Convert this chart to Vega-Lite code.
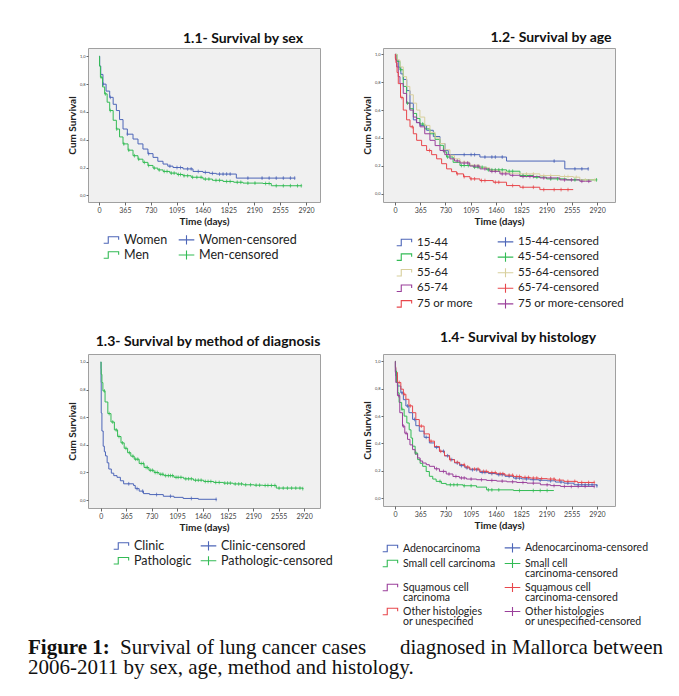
{
"$schema": "https://vega.github.io/schema/vega-lite/v6.json",
"background": "white",
"padding": {"left": 28, "top": 30, "right": 10, "bottom": 5},
"bounds": "flush",
"columns": 2,
"spacing": {"row": 152, "column": 63},
"resolve": {"scale": {"color": "independent"}, "legend": {"color": "independent"}},
"config": {
  "view": {"fill": "#f0f0f0", "stroke": "#a0a0a0", "strokeWidth": 1},
  "axis": {"grid": false, "domain": false, "labelFont": "Lato", "titleFont": "Lato", "titleFontWeight": "bold", "titleFontSize": 10, "titleColor": "#222", "labelColor": "#444", "tickColor": "#666"},
  "axisX": {"labelFontSize": 7, "tickSize": 3, "labelPadding": 1, "titlePadding": 3},
  "axisY": {"labelFontSize": 4, "tickSize": 2, "labelPadding": 1, "titlePadding": 2},
  "title": {"font": "Lato", "fontSize": 14, "fontWeight": "bold", "color": "#111"},
  "legend": {"orient": "bottom", "columns": 2, "symbolSize": 169, "symbolStrokeWidth": 1.1, "symbolFillColor": "transparent", "labelFont": "Lato", "labelColor": "#222", "labelLimit": 400, "labelOffset": 5}
},
"datasets": {
"sex": [
{"g":"Women","t":0,"s":1},{"g":"Women","t":10,"s":0.93},{"g":"Women","t":25,"s":0.87},{"g":"Women","t":56,"s":0.8},{"g":"Women","t":100,"s":0.75},{"g":"Women","t":151,"s":0.705},{"g":"Women","t":200,"s":0.655},{"g":"Women","t":245,"s":0.61},{"g":"Women","t":290,"s":0.545},{"g":"Women","t":339,"s":0.477},{"g":"Women","t":400,"s":0.44},{"g":"Women","t":480,"s":0.405},{"g":"Women","t":550,"s":0.37},{"g":"Women","t":620,"s":0.333},{"g":"Women","t":690,"s":0.3},{"g":"Women","t":762,"s":0.273},{"g":"Women","t":830,"s":0.245},{"g":"Women","t":903,"s":0.225},{"g":"Women","t":970,"s":0.21},{"g":"Women","t":1044,"s":0.2},{"g":"Women","t":1185,"s":0.19},{"g":"Women","t":1326,"s":0.172},{"g":"Women","t":1467,"s":0.165},{"g":"Women","t":1560,"s":0.158},{"g":"Women","t":1655,"s":0.153},{"g":"Women","t":1937,"s":0.124},{"g":"Women","t":2760,"s":0.124},
{"g":"Women","t":60,"s":0.8,"c":1},{"g":"Women","t":160,"s":0.705,"c":1},{"g":"Women","t":400,"s":0.44,"c":1},{"g":"Women","t":700,"s":0.3,"c":1},{"g":"Women","t":1000,"s":0.21,"c":1},{"g":"Women","t":1100,"s":0.2,"c":1},{"g":"Women","t":1150,"s":0.2,"c":1},{"g":"Women","t":1250,"s":0.19,"c":1},{"g":"Women","t":1300,"s":0.19,"c":1},{"g":"Women","t":1400,"s":0.172,"c":1},{"g":"Women","t":1500,"s":0.165,"c":1},{"g":"Women","t":1600,"s":0.158,"c":1},{"g":"Women","t":1700,"s":0.153,"c":1},{"g":"Women","t":1750,"s":0.153,"c":1},{"g":"Women","t":1800,"s":0.153,"c":1},{"g":"Women","t":1850,"s":0.153,"c":1},{"g":"Women","t":2100,"s":0.124,"c":1},{"g":"Women","t":2300,"s":0.124,"c":1},{"g":"Women","t":2400,"s":0.124,"c":1},{"g":"Women","t":2500,"s":0.124,"c":1},{"g":"Women","t":2600,"s":0.124,"c":1},{"g":"Women","t":2700,"s":0.124,"c":1},{"g":"Women","t":2760,"s":0.124,"c":1},
{"g":"Men","t":0,"s":1},{"g":"Men","t":8,"s":0.93},{"g":"Men","t":20,"s":0.85},{"g":"Men","t":50,"s":0.78},{"g":"Men","t":80,"s":0.73},{"g":"Men","t":115,"s":0.67},{"g":"Men","t":151,"s":0.61},{"g":"Men","t":200,"s":0.54},{"g":"Men","t":245,"s":0.477},{"g":"Men","t":290,"s":0.42},{"g":"Men","t":339,"s":0.37},{"g":"Men","t":410,"s":0.325},{"g":"Men","t":480,"s":0.285},{"g":"Men","t":550,"s":0.26},{"g":"Men","t":620,"s":0.237},{"g":"Men","t":690,"s":0.215},{"g":"Men","t":762,"s":0.196},{"g":"Men","t":830,"s":0.183},{"g":"Men","t":903,"s":0.172},{"g":"Men","t":1000,"s":0.16},{"g":"Men","t":1100,"s":0.15},{"g":"Men","t":1185,"s":0.141},{"g":"Men","t":1300,"s":0.13},{"g":"Men","t":1467,"s":0.117},{"g":"Men","t":1600,"s":0.108},{"g":"Men","t":1749,"s":0.1},{"g":"Men","t":1900,"s":0.094},{"g":"Men","t":2031,"s":0.088},{"g":"Men","t":2313,"s":0.085},{"g":"Men","t":2430,"s":0.069},{"g":"Men","t":2853,"s":0.069},
{"g":"Men","t":30,"s":0.85,"c":1},{"g":"Men","t":90,"s":0.73,"c":1},{"g":"Men","t":160,"s":0.61,"c":1},{"g":"Men","t":250,"s":0.477,"c":1},{"g":"Men","t":350,"s":0.37,"c":1},{"g":"Men","t":420,"s":0.325,"c":1},{"g":"Men","t":500,"s":0.285,"c":1},{"g":"Men","t":560,"s":0.26,"c":1},{"g":"Men","t":640,"s":0.237,"c":1},{"g":"Men","t":700,"s":0.215,"c":1},{"g":"Men","t":780,"s":0.196,"c":1},{"g":"Men","t":850,"s":0.183,"c":1},{"g":"Men","t":920,"s":0.172,"c":1},{"g":"Men","t":960,"s":0.172,"c":1},{"g":"Men","t":1020,"s":0.16,"c":1},{"g":"Men","t":1060,"s":0.16,"c":1},{"g":"Men","t":1120,"s":0.15,"c":1},{"g":"Men","t":1150,"s":0.15,"c":1},{"g":"Men","t":1200,"s":0.141,"c":1},{"g":"Men","t":1250,"s":0.141,"c":1},{"g":"Men","t":1320,"s":0.13,"c":1},{"g":"Men","t":1380,"s":0.13,"c":1},{"g":"Men","t":1440,"s":0.13,"c":1},{"g":"Men","t":1500,"s":0.117,"c":1},{"g":"Men","t":1550,"s":0.117,"c":1},{"g":"Men","t":1650,"s":0.108,"c":1},{"g":"Men","t":1700,"s":0.108,"c":1},{"g":"Men","t":1800,"s":0.1,"c":1},{"g":"Men","t":1850,"s":0.1,"c":1},{"g":"Men","t":1950,"s":0.094,"c":1},{"g":"Men","t":2000,"s":0.094,"c":1},{"g":"Men","t":2100,"s":0.088,"c":1},{"g":"Men","t":2200,"s":0.088,"c":1},{"g":"Men","t":2350,"s":0.085,"c":1},{"g":"Men","t":2400,"s":0.085,"c":1},{"g":"Men","t":2500,"s":0.069,"c":1},{"g":"Men","t":2600,"s":0.069,"c":1},{"g":"Men","t":2700,"s":0.069,"c":1},{"g":"Men","t":2800,"s":0.069,"c":1},{"g":"Men","t":2853,"s":0.069,"c":1}
],
"age": [
{"g":"15-44","t":0,"s":1},{"g":"15-44","t":20,"s":0.96},{"g":"15-44","t":48,"s":0.91},{"g":"15-44","t":85,"s":0.86},{"g":"15-44","t":120,"s":0.82},{"g":"15-44","t":170,"s":0.74},{"g":"15-44","t":217,"s":0.65},{"g":"15-44","t":265,"s":0.53},{"g":"15-44","t":310,"s":0.51},{"g":"15-44","t":361,"s":0.49},{"g":"15-44","t":457,"s":0.455},{"g":"15-44","t":554,"s":0.41},{"g":"15-44","t":650,"s":0.36},{"g":"15-44","t":722,"s":0.31},{"g":"15-44","t":770,"s":0.28},{"g":"15-44","t":1227,"s":0.263},{"g":"15-44","t":1612,"s":0.234},{"g":"15-44","t":2454,"s":0.178},{"g":"15-44","t":2792,"s":0.178},
{"g":"15-44","t":1000,"s":0.28,"c":1},{"g":"15-44","t":1100,"s":0.28,"c":1},{"g":"15-44","t":1150,"s":0.28,"c":1},{"g":"15-44","t":1300,"s":0.263,"c":1},{"g":"15-44","t":1400,"s":0.263,"c":1},{"g":"15-44","t":1450,"s":0.263,"c":1},{"g":"15-44","t":1550,"s":0.263,"c":1},{"g":"15-44","t":2300,"s":0.234,"c":1},{"g":"15-44","t":2600,"s":0.178,"c":1},{"g":"15-44","t":2700,"s":0.178,"c":1},{"g":"15-44","t":2792,"s":0.178,"c":1},
{"g":"45-54","t":0,"s":1},{"g":"45-54","t":30,"s":0.95},{"g":"45-54","t":72,"s":0.89},{"g":"45-54","t":120,"s":0.77},{"g":"45-54","t":168,"s":0.65},{"g":"45-54","t":215,"s":0.61},{"g":"45-54","t":265,"s":0.576},{"g":"45-54","t":313,"s":0.54},{"g":"45-54","t":361,"s":0.5},{"g":"45-54","t":430,"s":0.465},{"g":"45-54","t":505,"s":0.43},{"g":"45-54","t":580,"s":0.39},{"g":"45-54","t":650,"s":0.347},{"g":"45-54","t":700,"s":0.3},{"g":"45-54","t":746,"s":0.263},{"g":"45-54","t":840,"s":0.225},{"g":"45-54","t":939,"s":0.202},{"g":"45-54","t":1131,"s":0.19},{"g":"45-54","t":1324,"s":0.171},{"g":"45-54","t":1612,"s":0.161},{"g":"45-54","t":1805,"s":0.13},{"g":"45-54","t":1997,"s":0.118},{"g":"45-54","t":2189,"s":0.106},{"g":"45-54","t":2478,"s":0.099},{"g":"45-54","t":2912,"s":0.099},
{"g":"45-54","t":80,"s":0.89,"c":1},{"g":"45-54","t":180,"s":0.65,"c":1},{"g":"45-54","t":400,"s":0.5,"c":1},{"g":"45-54","t":760,"s":0.263,"c":1},{"g":"45-54","t":960,"s":0.202,"c":1},{"g":"45-54","t":1000,"s":0.202,"c":1},{"g":"45-54","t":1060,"s":0.202,"c":1},{"g":"45-54","t":1150,"s":0.19,"c":1},{"g":"45-54","t":1200,"s":0.19,"c":1},{"g":"45-54","t":1260,"s":0.19,"c":1},{"g":"45-54","t":1350,"s":0.171,"c":1},{"g":"45-54","t":1400,"s":0.171,"c":1},{"g":"45-54","t":1450,"s":0.171,"c":1},{"g":"45-54","t":1500,"s":0.171,"c":1},{"g":"45-54","t":1550,"s":0.171,"c":1},{"g":"45-54","t":1650,"s":0.161,"c":1},{"g":"45-54","t":1700,"s":0.161,"c":1},{"g":"45-54","t":1850,"s":0.13,"c":1},{"g":"45-54","t":1900,"s":0.13,"c":1},{"g":"45-54","t":2050,"s":0.118,"c":1},{"g":"45-54","t":2250,"s":0.106,"c":1},{"g":"45-54","t":2350,"s":0.106,"c":1},{"g":"45-54","t":2600,"s":0.099,"c":1},{"g":"45-54","t":2912,"s":0.099,"c":1},
{"g":"55-64","t":0,"s":1},{"g":"55-64","t":30,"s":0.96},{"g":"55-64","t":72,"s":0.91},{"g":"55-64","t":120,"s":0.84},{"g":"55-64","t":168,"s":0.77},{"g":"55-64","t":215,"s":0.71},{"g":"55-64","t":265,"s":0.65},{"g":"55-64","t":313,"s":0.6},{"g":"55-64","t":361,"s":0.55},{"g":"55-64","t":430,"s":0.49},{"g":"55-64","t":505,"s":0.44},{"g":"55-64","t":580,"s":0.4},{"g":"55-64","t":650,"s":0.36},{"g":"55-64","t":720,"s":0.315},{"g":"55-64","t":794,"s":0.275},{"g":"55-64","t":860,"s":0.25},{"g":"55-64","t":939,"s":0.226},{"g":"55-64","t":1080,"s":0.205},{"g":"55-64","t":1227,"s":0.185},{"g":"55-64","t":1370,"s":0.168},{"g":"55-64","t":1516,"s":0.154},{"g":"55-64","t":1660,"s":0.147},{"g":"55-64","t":1805,"s":0.142},{"g":"55-64","t":2093,"s":0.13},{"g":"55-64","t":2382,"s":0.123},{"g":"55-64","t":2575,"s":0.118},{"g":"55-64","t":2671,"s":0.099},{"g":"55-64","t":2890,"s":0.099},
{"g":"55-64","t":1000,"s":0.226,"c":1},{"g":"55-64","t":1300,"s":0.185,"c":1},{"g":"55-64","t":1600,"s":0.154,"c":1},{"g":"55-64","t":1900,"s":0.142,"c":1},{"g":"55-64","t":2000,"s":0.142,"c":1},{"g":"55-64","t":2150,"s":0.13,"c":1},{"g":"55-64","t":2250,"s":0.13,"c":1},{"g":"55-64","t":2450,"s":0.123,"c":1},{"g":"55-64","t":2500,"s":0.123,"c":1},{"g":"55-64","t":2620,"s":0.118,"c":1},{"g":"55-64","t":2750,"s":0.099,"c":1},{"g":"55-64","t":2890,"s":0.099,"c":1},
{"g":"65-74","t":0,"s":1},{"g":"65-74","t":10,"s":0.96},{"g":"65-74","t":24,"s":0.91},{"g":"65-74","t":48,"s":0.84},{"g":"65-74","t":72,"s":0.79},{"g":"65-74","t":120,"s":0.72},{"g":"65-74","t":168,"s":0.65},{"g":"65-74","t":215,"s":0.6},{"g":"65-74","t":265,"s":0.55},{"g":"65-74","t":313,"s":0.51},{"g":"65-74","t":361,"s":0.48},{"g":"65-74","t":430,"s":0.43},{"g":"65-74","t":505,"s":0.383},{"g":"65-74","t":580,"s":0.345},{"g":"65-74","t":650,"s":0.31},{"g":"65-74","t":720,"s":0.28},{"g":"65-74","t":794,"s":0.25},{"g":"65-74","t":860,"s":0.235},{"g":"65-74","t":939,"s":0.22},{"g":"65-74","t":1080,"s":0.198},{"g":"65-74","t":1227,"s":0.178},{"g":"65-74","t":1370,"s":0.16},{"g":"65-74","t":1516,"s":0.142},{"g":"65-74","t":1660,"s":0.132},{"g":"65-74","t":1805,"s":0.123},{"g":"65-74","t":2093,"s":0.113},{"g":"65-74","t":2382,"s":0.099},{"g":"65-74","t":2671,"s":0.089},{"g":"65-74","t":2840,"s":0.089},
{"g":"65-74","t":700,"s":0.31,"c":1},{"g":"65-74","t":900,"s":0.235,"c":1},{"g":"65-74","t":1000,"s":0.22,"c":1},{"g":"65-74","t":1050,"s":0.22,"c":1},{"g":"65-74","t":1150,"s":0.198,"c":1},{"g":"65-74","t":1200,"s":0.198,"c":1},{"g":"65-74","t":1300,"s":0.178,"c":1},{"g":"65-74","t":1400,"s":0.16,"c":1},{"g":"65-74","t":1450,"s":0.16,"c":1},{"g":"65-74","t":1550,"s":0.142,"c":1},{"g":"65-74","t":1600,"s":0.142,"c":1},{"g":"65-74","t":1700,"s":0.132,"c":1},{"g":"65-74","t":1850,"s":0.123,"c":1},{"g":"65-74","t":1950,"s":0.123,"c":1},{"g":"65-74","t":2000,"s":0.123,"c":1},{"g":"65-74","t":2150,"s":0.113,"c":1},{"g":"65-74","t":2250,"s":0.113,"c":1},{"g":"65-74","t":2450,"s":0.099,"c":1},{"g":"65-74","t":2550,"s":0.099,"c":1},{"g":"65-74","t":2700,"s":0.089,"c":1},{"g":"65-74","t":2800,"s":0.089,"c":1},
{"g":"75 or more","t":0,"s":1},{"g":"75 or more","t":5,"s":0.97},{"g":"75 or more","t":14,"s":0.94},{"g":"75 or more","t":30,"s":0.87},{"g":"75 or more","t":48,"s":0.79},{"g":"75 or more","t":80,"s":0.69},{"g":"75 or more","t":120,"s":0.6},{"g":"75 or more","t":168,"s":0.53},{"g":"75 or more","t":217,"s":0.48},{"g":"75 or more","t":265,"s":0.43},{"g":"75 or more","t":313,"s":0.383},{"g":"75 or more","t":385,"s":0.345},{"g":"75 or more","t":457,"s":0.31},{"g":"75 or more","t":530,"s":0.28},{"g":"75 or more","t":602,"s":0.25},{"g":"75 or more","t":674,"s":0.215},{"g":"75 or more","t":746,"s":0.178},{"g":"75 or more","t":818,"s":0.158},{"g":"75 or more","t":890,"s":0.142},{"g":"75 or more","t":990,"s":0.122},{"g":"75 or more","t":1084,"s":0.106},{"g":"75 or more","t":1227,"s":0.094},{"g":"75 or more","t":1420,"s":0.082},{"g":"75 or more","t":1612,"s":0.058},{"g":"75 or more","t":1805,"s":0.046},{"g":"75 or more","t":2093,"s":0.029},{"g":"75 or more","t":2575,"s":0.029},
{"g":"75 or more","t":100,"s":0.69,"c":1},{"g":"75 or more","t":250,"s":0.48,"c":1},{"g":"75 or more","t":500,"s":0.31,"c":1},{"g":"75 or more","t":900,"s":0.142,"c":1},{"g":"75 or more","t":1000,"s":0.122,"c":1},{"g":"75 or more","t":1100,"s":0.106,"c":1},{"g":"75 or more","t":1150,"s":0.106,"c":1},{"g":"75 or more","t":1250,"s":0.094,"c":1},{"g":"75 or more","t":1300,"s":0.094,"c":1},{"g":"75 or more","t":1450,"s":0.082,"c":1},{"g":"75 or more","t":1500,"s":0.082,"c":1},{"g":"75 or more","t":1700,"s":0.058,"c":1},{"g":"75 or more","t":1850,"s":0.046,"c":1},{"g":"75 or more","t":2000,"s":0.046,"c":1},{"g":"75 or more","t":2150,"s":0.029,"c":1},{"g":"75 or more","t":2300,"s":0.029,"c":1},{"g":"75 or more","t":2400,"s":0.029,"c":1},{"g":"75 or more","t":2500,"s":0.029,"c":1}
],
"method": [
{"g":"Clinic","t":0,"s":1},{"g":"Clinic","t":2,"s":0.85},{"g":"Clinic","t":5,"s":0.63},{"g":"Clinic","t":15,"s":0.5},{"g":"Clinic","t":33,"s":0.39},{"g":"Clinic","t":50,"s":0.35},{"g":"Clinic","t":66,"s":0.32},{"g":"Clinic","t":90,"s":0.27},{"g":"Clinic","t":114,"s":0.225},{"g":"Clinic","t":150,"s":0.195},{"g":"Clinic","t":185,"s":0.177},{"g":"Clinic","t":232,"s":0.165},{"g":"Clinic","t":280,"s":0.14},{"g":"Clinic","t":327,"s":0.118},{"g":"Clinic","t":470,"s":0.106},{"g":"Clinic","t":494,"s":0.083},{"g":"Clinic","t":550,"s":0.065},{"g":"Clinic","t":612,"s":0.047},{"g":"Clinic","t":700,"s":0.04},{"g":"Clinic","t":897,"s":0.028},{"g":"Clinic","t":1050,"s":0.02},{"g":"Clinic","t":1182,"s":0.012},{"g":"Clinic","t":1400,"s":0.006},{"g":"Clinic","t":1656,"s":0.005},
{"g":"Clinic","t":400,"s":0.118,"c":1},{"g":"Clinic","t":520,"s":0.083,"c":1},{"g":"Clinic","t":600,"s":0.065,"c":1},{"g":"Clinic","t":800,"s":0.04,"c":1},{"g":"Clinic","t":1000,"s":0.028,"c":1},{"g":"Clinic","t":1300,"s":0.012,"c":1},{"g":"Clinic","t":1656,"s":0.005,"c":1},
{"g":"Pathologic","t":0,"s":1},{"g":"Pathologic","t":3,"s":0.95},{"g":"Pathologic","t":5,"s":0.91},{"g":"Pathologic","t":15,"s":0.85},{"g":"Pathologic","t":29,"s":0.79},{"g":"Pathologic","t":60,"s":0.71},{"g":"Pathologic","t":100,"s":0.626},{"g":"Pathologic","t":145,"s":0.565},{"g":"Pathologic","t":194,"s":0.508},{"g":"Pathologic","t":240,"s":0.46},{"g":"Pathologic","t":289,"s":0.414},{"g":"Pathologic","t":335,"s":0.375},{"g":"Pathologic","t":384,"s":0.343},{"g":"Pathologic","t":430,"s":0.318},{"g":"Pathologic","t":479,"s":0.296},{"g":"Pathologic","t":550,"s":0.265},{"g":"Pathologic","t":621,"s":0.236},{"g":"Pathologic","t":690,"s":0.216},{"g":"Pathologic","t":764,"s":0.2},{"g":"Pathologic","t":835,"s":0.187},{"g":"Pathologic","t":906,"s":0.177},{"g":"Pathologic","t":1050,"s":0.165},{"g":"Pathologic","t":1191,"s":0.154},{"g":"Pathologic","t":1330,"s":0.144},{"g":"Pathologic","t":1476,"s":0.135},{"g":"Pathologic","t":1620,"s":0.128},{"g":"Pathologic","t":1761,"s":0.123},{"g":"Pathologic","t":1900,"s":0.117},{"g":"Pathologic","t":2046,"s":0.111},{"g":"Pathologic","t":2200,"s":0.108},{"g":"Pathologic","t":2330,"s":0.106},{"g":"Pathologic","t":2520,"s":0.087},{"g":"Pathologic","t":2900,"s":0.083},
{"g":"Pathologic","t":50,"s":0.79,"c":1},{"g":"Pathologic","t":120,"s":0.626,"c":1},{"g":"Pathologic","t":170,"s":0.565,"c":1},{"g":"Pathologic","t":220,"s":0.508,"c":1},{"g":"Pathologic","t":260,"s":0.46,"c":1},{"g":"Pathologic","t":310,"s":0.414,"c":1},{"g":"Pathologic","t":360,"s":0.375,"c":1},{"g":"Pathologic","t":410,"s":0.343,"c":1},{"g":"Pathologic","t":460,"s":0.318,"c":1},{"g":"Pathologic","t":500,"s":0.296,"c":1},{"g":"Pathologic","t":530,"s":0.296,"c":1},{"g":"Pathologic","t":580,"s":0.265,"c":1},{"g":"Pathologic","t":610,"s":0.265,"c":1},{"g":"Pathologic","t":650,"s":0.236,"c":1},{"g":"Pathologic","t":670,"s":0.236,"c":1},{"g":"Pathologic","t":710,"s":0.216,"c":1},{"g":"Pathologic","t":740,"s":0.216,"c":1},{"g":"Pathologic","t":780,"s":0.2,"c":1},{"g":"Pathologic","t":810,"s":0.2,"c":1},{"g":"Pathologic","t":860,"s":0.187,"c":1},{"g":"Pathologic","t":890,"s":0.187,"c":1},{"g":"Pathologic","t":930,"s":0.177,"c":1},{"g":"Pathologic","t":970,"s":0.177,"c":1},{"g":"Pathologic","t":1000,"s":0.177,"c":1},{"g":"Pathologic","t":1030,"s":0.177,"c":1},{"g":"Pathologic","t":1080,"s":0.165,"c":1},{"g":"Pathologic","t":1110,"s":0.165,"c":1},{"g":"Pathologic","t":1150,"s":0.165,"c":1},{"g":"Pathologic","t":1220,"s":0.154,"c":1},{"g":"Pathologic","t":1260,"s":0.154,"c":1},{"g":"Pathologic","t":1300,"s":0.154,"c":1},{"g":"Pathologic","t":1360,"s":0.144,"c":1},{"g":"Pathologic","t":1400,"s":0.144,"c":1},{"g":"Pathologic","t":1440,"s":0.144,"c":1},{"g":"Pathologic","t":1500,"s":0.135,"c":1},{"g":"Pathologic","t":1540,"s":0.135,"c":1},{"g":"Pathologic","t":1580,"s":0.135,"c":1},{"g":"Pathologic","t":1650,"s":0.128,"c":1},{"g":"Pathologic","t":1700,"s":0.128,"c":1},{"g":"Pathologic","t":1780,"s":0.123,"c":1},{"g":"Pathologic","t":1820,"s":0.123,"c":1},{"g":"Pathologic","t":1860,"s":0.123,"c":1},{"g":"Pathologic","t":1930,"s":0.117,"c":1},{"g":"Pathologic","t":1980,"s":0.117,"c":1},{"g":"Pathologic","t":2020,"s":0.117,"c":1},{"g":"Pathologic","t":2080,"s":0.111,"c":1},{"g":"Pathologic","t":2150,"s":0.111,"c":1},{"g":"Pathologic","t":2230,"s":0.108,"c":1},{"g":"Pathologic","t":2280,"s":0.108,"c":1},{"g":"Pathologic","t":2360,"s":0.106,"c":1},{"g":"Pathologic","t":2400,"s":0.106,"c":1},{"g":"Pathologic","t":2450,"s":0.106,"c":1},{"g":"Pathologic","t":2500,"s":0.106,"c":1},{"g":"Pathologic","t":2560,"s":0.087,"c":1},{"g":"Pathologic","t":2620,"s":0.087,"c":1},{"g":"Pathologic","t":2680,"s":0.087,"c":1},{"g":"Pathologic","t":2740,"s":0.087,"c":1},{"g":"Pathologic","t":2800,"s":0.087,"c":1},{"g":"Pathologic","t":2860,"s":0.087,"c":1},{"g":"Pathologic","t":2900,"s":0.083,"c":1}
],
"histology": [
{"g":"Adenocarcinoma","t":0,"s":1},{"g":"Adenocarcinoma","t":5,"s":0.95},{"g":"Adenocarcinoma","t":10,"s":0.895},{"g":"Adenocarcinoma","t":34,"s":0.82},{"g":"Adenocarcinoma","t":83,"s":0.77},{"g":"Adenocarcinoma","t":120,"s":0.72},{"g":"Adenocarcinoma","t":156,"s":0.674},{"g":"Adenocarcinoma","t":200,"s":0.625},{"g":"Adenocarcinoma","t":253,"s":0.576},{"g":"Adenocarcinoma","t":300,"s":0.53},{"g":"Adenocarcinoma","t":350,"s":0.49},{"g":"Adenocarcinoma","t":420,"s":0.445},{"g":"Adenocarcinoma","t":496,"s":0.404},{"g":"Adenocarcinoma","t":570,"s":0.372},{"g":"Adenocarcinoma","t":642,"s":0.343},{"g":"Adenocarcinoma","t":715,"s":0.31},{"g":"Adenocarcinoma","t":788,"s":0.282},{"g":"Adenocarcinoma","t":860,"s":0.258},{"g":"Adenocarcinoma","t":934,"s":0.238},{"g":"Adenocarcinoma","t":1010,"s":0.222},{"g":"Adenocarcinoma","t":1080,"s":0.208},{"g":"Adenocarcinoma","t":1226,"s":0.189},{"g":"Adenocarcinoma","t":1350,"s":0.18},{"g":"Adenocarcinoma","t":1470,"s":0.172},{"g":"Adenocarcinoma","t":1590,"s":0.16},{"g":"Adenocarcinoma","t":1713,"s":0.147},{"g":"Adenocarcinoma","t":1830,"s":0.141},{"g":"Adenocarcinoma","t":1956,"s":0.135},{"g":"Adenocarcinoma","t":2080,"s":0.131},{"g":"Adenocarcinoma","t":2200,"s":0.127},{"g":"Adenocarcinoma","t":2320,"s":0.118},{"g":"Adenocarcinoma","t":2443,"s":0.11},{"g":"Adenocarcinoma","t":2589,"s":0.098},{"g":"Adenocarcinoma","t":2920,"s":0.09},
{"g":"Adenocarcinoma","t":100,"s":0.77,"c":1},{"g":"Adenocarcinoma","t":180,"s":0.674,"c":1},{"g":"Adenocarcinoma","t":280,"s":0.576,"c":1},{"g":"Adenocarcinoma","t":450,"s":0.445,"c":1},{"g":"Adenocarcinoma","t":600,"s":0.372,"c":1},{"g":"Adenocarcinoma","t":700,"s":0.343,"c":1},{"g":"Adenocarcinoma","t":760,"s":0.31,"c":1},{"g":"Adenocarcinoma","t":820,"s":0.282,"c":1},{"g":"Adenocarcinoma","t":900,"s":0.258,"c":1},{"g":"Adenocarcinoma","t":960,"s":0.238,"c":1},{"g":"Adenocarcinoma","t":1040,"s":0.222,"c":1},{"g":"Adenocarcinoma","t":1120,"s":0.208,"c":1},{"g":"Adenocarcinoma","t":1180,"s":0.208,"c":1},{"g":"Adenocarcinoma","t":1260,"s":0.189,"c":1},{"g":"Adenocarcinoma","t":1300,"s":0.189,"c":1},{"g":"Adenocarcinoma","t":1400,"s":0.18,"c":1},{"g":"Adenocarcinoma","t":1500,"s":0.172,"c":1},{"g":"Adenocarcinoma","t":1550,"s":0.172,"c":1},{"g":"Adenocarcinoma","t":1650,"s":0.16,"c":1},{"g":"Adenocarcinoma","t":1750,"s":0.147,"c":1},{"g":"Adenocarcinoma","t":1800,"s":0.147,"c":1},{"g":"Adenocarcinoma","t":1900,"s":0.141,"c":1},{"g":"Adenocarcinoma","t":2000,"s":0.135,"c":1},{"g":"Adenocarcinoma","t":2100,"s":0.131,"c":1},{"g":"Adenocarcinoma","t":2250,"s":0.127,"c":1},{"g":"Adenocarcinoma","t":2400,"s":0.118,"c":1},{"g":"Adenocarcinoma","t":2500,"s":0.11,"c":1},{"g":"Adenocarcinoma","t":2650,"s":0.098,"c":1},{"g":"Adenocarcinoma","t":2700,"s":0.098,"c":1},{"g":"Adenocarcinoma","t":2750,"s":0.098,"c":1},{"g":"Adenocarcinoma","t":2800,"s":0.098,"c":1},{"g":"Adenocarcinoma","t":2850,"s":0.098,"c":1},{"g":"Adenocarcinoma","t":2920,"s":0.09,"c":1},
{"g":"Other histologies or unespecified","t":0,"s":1},{"g":"Other histologies or unespecified","t":5,"s":0.96},{"g":"Other histologies or unespecified","t":10,"s":0.92},{"g":"Other histologies or unespecified","t":34,"s":0.846},{"g":"Other histologies or unespecified","t":83,"s":0.797},{"g":"Other histologies or unespecified","t":120,"s":0.76},{"g":"Other histologies or unespecified","t":156,"s":0.723},{"g":"Other histologies or unespecified","t":200,"s":0.675},{"g":"Other histologies or unespecified","t":253,"s":0.625},{"g":"Other histologies or unespecified","t":300,"s":0.575},{"g":"Other histologies or unespecified","t":350,"s":0.527},{"g":"Other histologies or unespecified","t":420,"s":0.47},{"g":"Other histologies or unespecified","t":496,"s":0.417},{"g":"Other histologies or unespecified","t":570,"s":0.378},{"g":"Other histologies or unespecified","t":642,"s":0.343},{"g":"Other histologies or unespecified","t":715,"s":0.31},{"g":"Other histologies or unespecified","t":788,"s":0.282},{"g":"Other histologies or unespecified","t":860,"s":0.262},{"g":"Other histologies or unespecified","t":934,"s":0.245},{"g":"Other histologies or unespecified","t":1010,"s":0.228},{"g":"Other histologies or unespecified","t":1080,"s":0.213},{"g":"Other histologies or unespecified","t":1226,"s":0.196},{"g":"Other histologies or unespecified","t":1350,"s":0.187},{"g":"Other histologies or unespecified","t":1470,"s":0.179},{"g":"Other histologies or unespecified","t":1590,"s":0.168},{"g":"Other histologies or unespecified","t":1713,"s":0.159},{"g":"Other histologies or unespecified","t":1830,"s":0.152},{"g":"Other histologies or unespecified","t":1956,"s":0.147},{"g":"Other histologies or unespecified","t":2080,"s":0.143},{"g":"Other histologies or unespecified","t":2200,"s":0.14},{"g":"Other histologies or unespecified","t":2320,"s":0.132},{"g":"Other histologies or unespecified","t":2443,"s":0.123},{"g":"Other histologies or unespecified","t":2638,"s":0.115},{"g":"Other histologies or unespecified","t":2881,"s":0.115},
{"g":"Other histologies or unespecified","t":60,"s":0.846,"c":1},{"g":"Other histologies or unespecified","t":130,"s":0.76,"c":1},{"g":"Other histologies or unespecified","t":220,"s":0.675,"c":1},{"g":"Other histologies or unespecified","t":380,"s":0.527,"c":1},{"g":"Other histologies or unespecified","t":520,"s":0.417,"c":1},{"g":"Other histologies or unespecified","t":660,"s":0.343,"c":1},{"g":"Other histologies or unespecified","t":800,"s":0.282,"c":1},{"g":"Other histologies or unespecified","t":900,"s":0.262,"c":1},{"g":"Other histologies or unespecified","t":1000,"s":0.245,"c":1},{"g":"Other histologies or unespecified","t":1050,"s":0.228,"c":1},{"g":"Other histologies or unespecified","t":1150,"s":0.213,"c":1},{"g":"Other histologies or unespecified","t":1200,"s":0.213,"c":1},{"g":"Other histologies or unespecified","t":1280,"s":0.196,"c":1},{"g":"Other histologies or unespecified","t":1320,"s":0.196,"c":1},{"g":"Other histologies or unespecified","t":1400,"s":0.187,"c":1},{"g":"Other histologies or unespecified","t":1450,"s":0.187,"c":1},{"g":"Other histologies or unespecified","t":1520,"s":0.179,"c":1},{"g":"Other histologies or unespecified","t":1560,"s":0.179,"c":1},{"g":"Other histologies or unespecified","t":1650,"s":0.168,"c":1},{"g":"Other histologies or unespecified","t":1700,"s":0.168,"c":1},{"g":"Other histologies or unespecified","t":1760,"s":0.159,"c":1},{"g":"Other histologies or unespecified","t":1800,"s":0.159,"c":1},{"g":"Other histologies or unespecified","t":1880,"s":0.152,"c":1},{"g":"Other histologies or unespecified","t":1930,"s":0.152,"c":1},{"g":"Other histologies or unespecified","t":2000,"s":0.147,"c":1},{"g":"Other histologies or unespecified","t":2050,"s":0.147,"c":1},{"g":"Other histologies or unespecified","t":2120,"s":0.143,"c":1},{"g":"Other histologies or unespecified","t":2250,"s":0.14,"c":1},{"g":"Other histologies or unespecified","t":2300,"s":0.14,"c":1},{"g":"Other histologies or unespecified","t":2380,"s":0.132,"c":1},{"g":"Other histologies or unespecified","t":2500,"s":0.123,"c":1},{"g":"Other histologies or unespecified","t":2600,"s":0.123,"c":1},{"g":"Other histologies or unespecified","t":2700,"s":0.115,"c":1},{"g":"Other histologies or unespecified","t":2800,"s":0.115,"c":1},{"g":"Other histologies or unespecified","t":2881,"s":0.115,"c":1},
{"g":"Small cell carcinoma","t":0,"s":1},{"g":"Small cell carcinoma","t":5,"s":0.93},{"g":"Small cell carcinoma","t":20,"s":0.846},{"g":"Small cell carcinoma","t":40,"s":0.77},{"g":"Small cell carcinoma","t":58,"s":0.7},{"g":"Small cell carcinoma","t":95,"s":0.65},{"g":"Small cell carcinoma","t":131,"s":0.6},{"g":"Small cell carcinoma","t":170,"s":0.55},{"g":"Small cell carcinoma","t":204,"s":0.5},{"g":"Small cell carcinoma","t":230,"s":0.44},{"g":"Small cell carcinoma","t":253,"s":0.38},{"g":"Small cell carcinoma","t":290,"s":0.33},{"g":"Small cell carcinoma","t":326,"s":0.282},{"g":"Small cell carcinoma","t":362,"s":0.255},{"g":"Small cell carcinoma","t":399,"s":0.233},{"g":"Small cell carcinoma","t":450,"s":0.195},{"g":"Small cell carcinoma","t":496,"s":0.16},{"g":"Small cell carcinoma","t":545,"s":0.14},{"g":"Small cell carcinoma","t":594,"s":0.123},{"g":"Small cell carcinoma","t":670,"s":0.108},{"g":"Small cell carcinoma","t":740,"s":0.098},{"g":"Small cell carcinoma","t":983,"s":0.091},{"g":"Small cell carcinoma","t":1178,"s":0.081},{"g":"Small cell carcinoma","t":1324,"s":0.061},{"g":"Small cell carcinoma","t":1713,"s":0.056},{"g":"Small cell carcinoma","t":2297,"s":0.056},
{"g":"Small cell carcinoma","t":100,"s":0.65,"c":1},{"g":"Small cell carcinoma","t":300,"s":0.33,"c":1},{"g":"Small cell carcinoma","t":650,"s":0.123,"c":1},{"g":"Small cell carcinoma","t":800,"s":0.098,"c":1},{"g":"Small cell carcinoma","t":850,"s":0.098,"c":1},{"g":"Small cell carcinoma","t":900,"s":0.098,"c":1},{"g":"Small cell carcinoma","t":1000,"s":0.091,"c":1},{"g":"Small cell carcinoma","t":1100,"s":0.091,"c":1},{"g":"Small cell carcinoma","t":1350,"s":0.061,"c":1},{"g":"Small cell carcinoma","t":1400,"s":0.061,"c":1},{"g":"Small cell carcinoma","t":1500,"s":0.061,"c":1},{"g":"Small cell carcinoma","t":1800,"s":0.056,"c":1},{"g":"Small cell carcinoma","t":2000,"s":0.056,"c":1},{"g":"Small cell carcinoma","t":2100,"s":0.056,"c":1},{"g":"Small cell carcinoma","t":2200,"s":0.056,"c":1},
{"g":"Squamous cell carcinoma","t":0,"s":1},{"g":"Squamous cell carcinoma","t":3,"s":0.92},{"g":"Squamous cell carcinoma","t":10,"s":0.846},{"g":"Squamous cell carcinoma","t":34,"s":0.75},{"g":"Squamous cell carcinoma","t":68,"s":0.625},{"g":"Squamous cell carcinoma","t":107,"s":0.527},{"g":"Squamous cell carcinoma","t":140,"s":0.475},{"g":"Squamous cell carcinoma","t":180,"s":0.43},{"g":"Squamous cell carcinoma","t":215,"s":0.39},{"g":"Squamous cell carcinoma","t":253,"s":0.355},{"g":"Squamous cell carcinoma","t":290,"s":0.322},{"g":"Squamous cell carcinoma","t":326,"s":0.294},{"g":"Squamous cell carcinoma","t":362,"s":0.272},{"g":"Squamous cell carcinoma","t":399,"s":0.257},{"g":"Squamous cell carcinoma","t":450,"s":0.245},{"g":"Squamous cell carcinoma","t":496,"s":0.233},{"g":"Squamous cell carcinoma","t":570,"s":0.215},{"g":"Squamous cell carcinoma","t":642,"s":0.196},{"g":"Squamous cell carcinoma","t":740,"s":0.177},{"g":"Squamous cell carcinoma","t":837,"s":0.159},{"g":"Squamous cell carcinoma","t":930,"s":0.148},{"g":"Squamous cell carcinoma","t":1032,"s":0.14},{"g":"Squamous cell carcinoma","t":1180,"s":0.135},{"g":"Squamous cell carcinoma","t":1324,"s":0.13},{"g":"Squamous cell carcinoma","t":1470,"s":0.125},{"g":"Squamous cell carcinoma","t":1616,"s":0.12},{"g":"Squamous cell carcinoma","t":1760,"s":0.115},{"g":"Squamous cell carcinoma","t":1908,"s":0.11},{"g":"Squamous cell carcinoma","t":2102,"s":0.098},{"g":"Squamous cell carcinoma","t":2250,"s":0.092},{"g":"Squamous cell carcinoma","t":2394,"s":0.086},{"g":"Squamous cell carcinoma","t":2881,"s":0.086},
{"g":"Squamous cell carcinoma","t":50,"s":0.75,"c":1},{"g":"Squamous cell carcinoma","t":120,"s":0.527,"c":1},{"g":"Squamous cell carcinoma","t":160,"s":0.475,"c":1},{"g":"Squamous cell carcinoma","t":600,"s":0.215,"c":1},{"g":"Squamous cell carcinoma","t":700,"s":0.196,"c":1},{"g":"Squamous cell carcinoma","t":780,"s":0.177,"c":1},{"g":"Squamous cell carcinoma","t":880,"s":0.159,"c":1},{"g":"Squamous cell carcinoma","t":960,"s":0.148,"c":1},{"g":"Squamous cell carcinoma","t":1000,"s":0.148,"c":1},{"g":"Squamous cell carcinoma","t":1100,"s":0.14,"c":1},{"g":"Squamous cell carcinoma","t":1250,"s":0.135,"c":1},{"g":"Squamous cell carcinoma","t":1400,"s":0.13,"c":1},{"g":"Squamous cell carcinoma","t":1550,"s":0.125,"c":1},{"g":"Squamous cell carcinoma","t":1700,"s":0.12,"c":1},{"g":"Squamous cell carcinoma","t":1850,"s":0.115,"c":1},{"g":"Squamous cell carcinoma","t":2000,"s":0.11,"c":1},{"g":"Squamous cell carcinoma","t":2200,"s":0.098,"c":1},{"g":"Squamous cell carcinoma","t":2300,"s":0.092,"c":1},{"g":"Squamous cell carcinoma","t":2450,"s":0.086,"c":1},{"g":"Squamous cell carcinoma","t":2550,"s":0.086,"c":1},{"g":"Squamous cell carcinoma","t":2650,"s":0.086,"c":1},{"g":"Squamous cell carcinoma","t":2750,"s":0.086,"c":1},{"g":"Squamous cell carcinoma","t":2881,"s":0.086,"c":1}
]
},
"concat": [
 {"width": 232, "height": 154, "data": {"name": "sex"},
  "title": {"text": "1.1- Survival by sex", "dx": 39, "offset": 2},
  "encoding": {
   "x": {"field": "t", "type": "quantitative", "scale": {"domain": [-155, 3117], "nice": false, "zero": false}, "axis": {"values": [0,365,730,1095,1460,1825,2190,2555,2920], "format": "d", "title": "Time (days)"}},
   "y": {"field": "s", "type": "quantitative", "scale": {"domain": [-0.048, 1.06], "nice": false, "zero": false}, "axis": {"values": [0,0.2,0.4,0.6,0.8,1], "title": "Cum Survival", "labelExpr": "replace(format(datum.value,'.1f'),'.',',')"}},
   "color": {"field": "g", "type": "nominal",
     "scale": {"domain": ["Women","Women-censored","Men","Men-censored"], "range": ["#4d66b8","#4d66b8","#33bb55","#33bb55"]},
     "legend": {"title": null, "padding": 16, "offset": -10, "labelFontSize": 12.5, "columnPadding": 8, "rowPadding": 0.5,
       "encode": {"symbols": {"update": {"shape": {"signal": "indexof(datum.label,'censored')>=0 ? 'M-1.2,0H1.2M0,-0.7V0.7' : 'M-1.2,0.5H-0.5V-0.5H1.1V-0.05'"}, "fill": {"value": "transparent"}}}}}}
  },
  "layer": [
   {"transform": [{"filter": "!datum.c"}], "mark": {"type": "line", "interpolate": "step-after", "strokeWidth": 1}},
   {"transform": [{"filter": "datum.c == 1"}], "mark": {"type": "point", "shape": "M-0.5,0H0.5M0,-1V1", "size": 14, "filled": false, "strokeWidth": 0.7, "opacity": 1}}
  ]},
 {"width": 232, "height": 154, "data": {"name": "age"},
  "title": {"text": "1.2- Survival by age", "dx": 52, "offset": 3},
  "encoding": {
   "x": {"field": "t", "type": "quantitative", "scale": {"domain": [-173, 3179], "nice": false, "zero": false}, "axis": {"values": [0,365,730,1095,1460,1825,2190,2555,2920], "format": "d", "title": "Time (days)"}},
   "y": {"field": "s", "type": "quantitative", "scale": {"domain": [-0.06, 1.046], "nice": false, "zero": false}, "axis": {"values": [0,0.2,0.4,0.6,0.8,1], "title": "Cum Survival", "labelExpr": "replace(format(datum.value,'.1f'),'.',',')"}},
   "color": {"field": "g", "type": "nominal",
     "scale": {"domain": ["15-44","15-44-censored","45-54","45-54-censored","55-64","55-64-censored","65-74","65-74-censored","75 or more","75 or more-censored"], "range": ["#4d66b8","#4d66b8","#33bb55","#33bb55","#d8cf9c","#d8cf9c","#9a3f9a","#e8474c","#e8474c","#9a3f9a"]},
     "legend": {"title": null, "padding": 14, "offset": -6, "labelFontSize": 11.5, "columnPadding": 22, "rowPadding": 0.6,
       "encode": {"symbols": {"update": {"shape": {"signal": "indexof(datum.label,'censored')>=0 ? 'M-1.2,0H1.2M0,-0.7V0.7' : 'M-1.2,0.5H-0.5V-0.5H1.1V-0.05'"}, "fill": {"value": "transparent"}}}}}}
  },
  "layer": [
   {"transform": [{"filter": "!datum.c"}], "mark": {"type": "line", "interpolate": "step-after", "strokeWidth": 1}},
   {"transform": [{"filter": "datum.c == 1"}], "mark": {"type": "point", "shape": "M-0.5,0H0.5M0,-1V1", "size": 14, "filled": false, "strokeWidth": 0.7, "opacity": 1}}
  ]},
 {"width": 232, "height": 154, "data": {"name": "method"},
  "title": {"text": "1.3- Survival by method of diagnosis", "dx": 4, "offset": 5},
  "encoding": {
   "x": {"field": "t", "type": "quantitative", "scale": {"domain": [-185, 3148], "nice": false, "zero": false}, "axis": {"values": [0,365,730,1095,1460,1825,2190,2555,2920], "format": "d", "title": "Time (days)"}},
   "y": {"field": "s", "type": "quantitative", "scale": {"domain": [-0.057, 1.057], "nice": false, "zero": false}, "axis": {"values": [0,0.2,0.4,0.6,0.8,1], "title": "Cum Survival", "labelExpr": "replace(format(datum.value,'.1f'),'.',',')"}},
   "color": {"field": "g", "type": "nominal",
     "scale": {"domain": ["Clinic","Clinic-censored","Pathologic","Pathologic-censored"], "range": ["#4d66b8","#4d66b8","#33bb55","#33bb55"]},
     "legend": {"title": null, "padding": 26, "offset": -20, "labelFontSize": 12.5, "columnPadding": 6, "rowPadding": 0.3,
       "encode": {"symbols": {"update": {"shape": {"signal": "indexof(datum.label,'censored')>=0 ? 'M-1.2,0H1.2M0,-0.7V0.7' : 'M-1.2,0.5H-0.5V-0.5H1.1V-0.05'"}, "fill": {"value": "transparent"}}}}}}
  },
  "layer": [
   {"transform": [{"filter": "!datum.c"}], "mark": {"type": "line", "interpolate": "step-after", "strokeWidth": 1}},
   {"transform": [{"filter": "datum.c == 1"}], "mark": {"type": "point", "shape": "M-0.5,0H0.5M0,-1V1", "size": 14, "filled": false, "strokeWidth": 0.7, "opacity": 1}}
  ]},
 {"width": 232, "height": 152, "data": {"name": "histology"},
  "title": {"text": "1.4- Survival by histology", "dx": 19, "offset": 9},
  "encoding": {
   "x": {"field": "t", "type": "quantitative", "scale": {"domain": [-175, 3182], "nice": false, "zero": false}, "axis": {"values": [0,365,730,1095,1460,1825,2190,2555,2920], "format": "d", "title": "Time (days)"}},
   "y": {"field": "s", "type": "quantitative", "scale": {"domain": [-0.057, 1.054], "nice": false, "zero": false}, "axis": {"values": [0,0.2,0.4,0.6,0.8,1], "title": "Cum Survival", "labelExpr": "replace(format(datum.value,'.1f'),'.',',')"}},
   "color": {"field": "g", "type": "nominal",
     "scale": {"domain": ["Adenocarcinoma","Adenocarcinoma-censored","Small cell carcinoma","Small cell carcinoma-censored","Squamous cell carcinoma","Squamous cell carcinoma-censored","Other histologies or unespecified","Other histologies or unespecified-censored"], "range": ["#4d66b8","#4d66b8","#33bb55","#33bb55","#9a3f9a","#e8474c","#e8474c","#9a3f9a"]},
     "legend": {"title": null, "padding": 0, "offset": 10, "labelFontSize": 10.5, "columnPadding": 6, "rowPadding": 1,
       "labelExpr": "datum.label == 'Small cell carcinoma' ? datum.label : split(replace(replace(datum.label, ' carcinoma', '|carcinoma'), ' or ', '|or '), '|')",
       "encode": {"symbols": {"update": {"shape": {"signal": "indexof(datum.label,'censored')>=0 ? 'M-1.2,0H1.2M0,-0.7V0.7' : 'M-1.2,0.5H-0.5V-0.5H1.1V-0.05'"}, "fill": {"value": "transparent"}}},
                  "labels": {"update": {"lineHeight": {"value": 10}}}}}}
  },
  "layer": [
   {"transform": [{"filter": "!datum.c"}], "mark": {"type": "line", "interpolate": "step-after", "strokeWidth": 1}},
   {"transform": [{"filter": "datum.c == 1"}], "mark": {"type": "point", "shape": "M-0.5,0H0.5M0,-1V1", "size": 14, "filled": false, "strokeWidth": 0.7, "opacity": 1}}
  ]},
 {"width": 232, "height": 20,
  "view": {"stroke": null, "fill": null},
  "data": {"values": [
    {"line": 1, "seg": "A", "txt": "Figure 1:"},
    {"line": 1, "seg": "B", "txt": "Survival of lung cancer cases"},
    {"line": 1, "seg": "C", "txt": "diagnosed in Mallorca between"},
    {"line": 2, "seg": "D", "txt": "2006-2011 by sex, age, method and histology."}
  ]},
  "encoding": {
    "y": {"field": "line", "type": "ordinal", "scale": {"type": "point", "padding": 0}, "axis": null},
    "text": {"field": "txt"}
  },
  "layer": [
    {"transform": [{"filter": "datum.seg == 'A'"}], "mark": {"type": "text", "font": "Liberation Serif", "fontSize": 21, "fontWeight": "bold", "align": "left", "baseline": "alphabetic", "dx": -60, "dy": -6, "color": "#111"}, "encoding": {"x": {"value": 0}}},
    {"transform": [{"filter": "datum.seg == 'B'"}], "mark": {"type": "text", "font": "Liberation Serif", "fontSize": 21, "align": "left", "baseline": "alphabetic", "dx": 32, "dy": -6, "color": "#111"}, "encoding": {"x": {"value": 0}}},
    {"transform": [{"filter": "datum.seg == 'C'"}], "mark": {"type": "text", "font": "Liberation Serif", "fontSize": 21, "align": "right", "baseline": "alphabetic", "dx": 575, "dy": -6, "color": "#111"}, "encoding": {"x": {"value": 0}}},
    {"transform": [{"filter": "datum.seg == 'D'"}], "mark": {"type": "text", "font": "Liberation Serif", "fontSize": 21, "align": "left", "baseline": "alphabetic", "dx": -60, "dy": -6, "color": "#111"}, "encoding": {"x": {"value": 0}}}
  ]}
]
}
